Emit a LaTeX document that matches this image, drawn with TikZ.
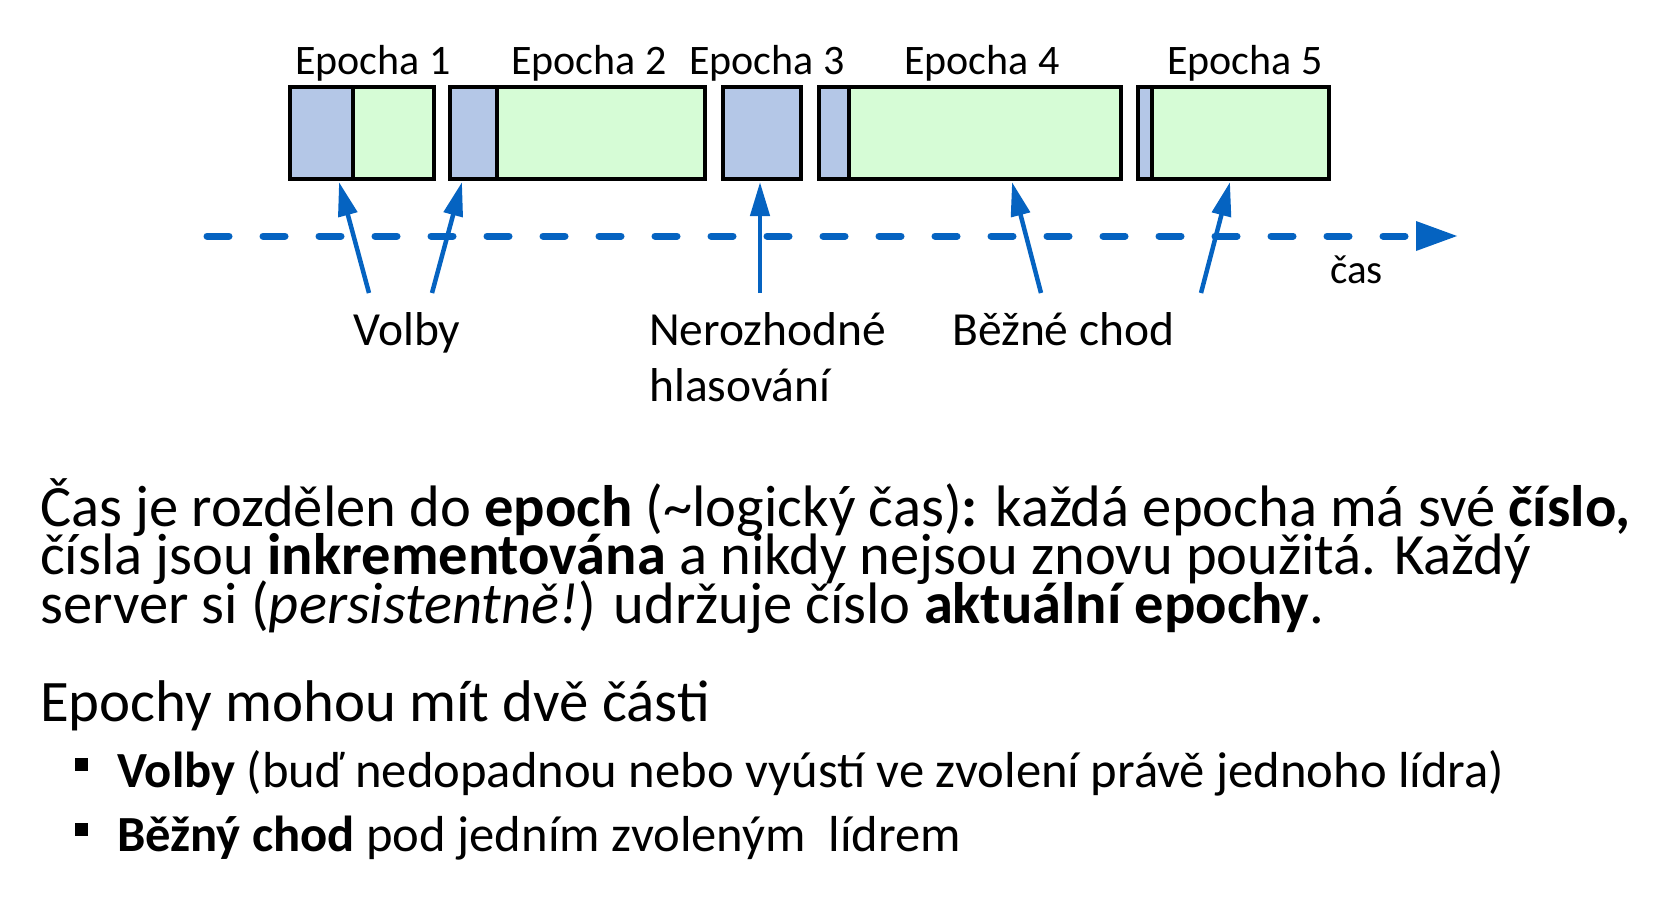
\documentclass[tikz,border=0pt]{standalone}
\usepackage{fontspec}
\setmainfont{Carlito}
\usetikzlibrary{arrows.meta}
\definecolor{arrowblue}{RGB}{5,99,193}
\definecolor{voteblue}{RGB}{180,199,231}
\definecolor{rungreen}{RGB}{214,252,214}
\begin{document}
\begin{tikzpicture}[x=1pt,y=-1pt,
  votepart/.style={fill=voteblue,draw=black,line width=4pt},
  runpart/.style={fill=rungreen,draw=black,line width=4pt},
  epochlabel/.style={anchor=base,inner sep=0pt,font=\fontsize{42}{50}\selectfont},
  phaselabel/.style={anchor=base west,inner sep=0pt,font=\fontsize{47.5}{56}\selectfont},
  pointer/.style={draw=arrowblue,line width=4.5pt,-{Triangle[length=34pt,width=19pt]}},
  timeline/.style={draw=arrowblue,line width=7pt,line cap=round,dash pattern=on 22pt off 34pt},
  textline/.style={anchor=base west,inner sep=0pt,font=\fontsize{58.5}{62}\selectfont},
  headline/.style={anchor=base west,inner sep=0pt,font=\fontsize{58.8}{64}\selectfont},
  bulletline/.style={anchor=base west,inner sep=0pt,font=\fontsize{50.6}{56}\selectfont},
  bulletmark/.style={fill=black,minimum size=13pt,inner sep=0pt}]
\useasboundingbox (0,0) rectangle (1662,908);

% epochs: election part (blue) followed by normal operation (green)
\filldraw[runpart] (353,87) rectangle (434,179);
\filldraw[votepart] (290,87) rectangle (353,179);
\filldraw[runpart] (497,87) rectangle (705,179);
\filldraw[votepart] (450,87) rectangle (497,179);
\filldraw[votepart] (723,87) rectangle (801,179);
\filldraw[runpart] (849,87) rectangle (1121,179);
\filldraw[votepart] (819,87) rectangle (849,179);
\filldraw[runpart] (1152,87) rectangle (1329,179);
\filldraw[votepart] (1138,87) rectangle (1152,179);

\node[epochlabel] (e1) at (373,74) {Epocha 1};
\node[epochlabel] (e2) at (589,74) {Epocha 2};
\node[epochlabel] (e3) at (767,74) {Epocha 3};
\node[epochlabel] (e4) at (982,74) {Epocha 4};
\node[epochlabel] (e5) at (1245,74) {Epocha 5};

% time axis
\coordinate (t0) at (207,236);
\coordinate (t1) at (1418,236);
\coordinate (t2) at (1457,236);
\draw[timeline] (t0) -- (t1);
\fill[arrowblue] (1416,221) -- (t2) -- (1416,251) -- cycle;
\node[anchor=base west,inner sep=0pt,font=\fontsize{41}{48}\selectfont] (cas) at (1330,283) {čas};

% pointers
\coordinate (s1) at (369,293); \coordinate (p1) at (339,182);
\coordinate (s2) at (432,293); \coordinate (p2) at (462,182);
\coordinate (s3) at (760,293); \coordinate (p3) at (760,182);
\coordinate (s4) at (1041,293); \coordinate (p4) at (1012,182);
\coordinate (s5) at (1201,293); \coordinate (p5) at (1230,182);
\draw[pointer] (s1) -- (p1);
\draw[pointer] (s2) -- (p2);
\draw[pointer] (s3) -- (p3);
\draw[pointer] (s4) -- (p4);
\draw[pointer] (s5) -- (p5);

\node[phaselabel] (volby) at (353,345) {Volby};
\node[phaselabel] (nerozh) at (649,345) {Nerozhodné};
\node[phaselabel] (hlas) at (649,401) {hlasování};
\node[phaselabel] (bezne) at (952,345) {Běžné chod};

% explanatory text
\node[textline] (l1) at (40,526) {Čas je rozdělen do \textbf{epoch} (\textasciitilde logický čas)\textbf{:} každá epocha má své \textbf{číslo,}};
\node[textline] (l2) at (40,574) {čísla jsou \textbf{inkrementována} a nikdy nejsou znovu použitá. Každý};
\node[textline] (l3) at (40,623) {server si (\textit{persistentně!}) udržuje číslo \textbf{aktuální epochy}.};

\node[headline] (h1) at (40,721) {Epochy mohou mít dvě části};

\node[bulletmark] (b1) at (81,764) {};
\node[bulletline] (bl1) at (117,787) {\textbf{Volby} (buď nedopadnou nebo vyústí ve zvolení právě jednoho lídra)};
\node[bulletmark] (b2) at (81,829) {};
\node[bulletline] (bl2) at (117,851) {\textbf{Běžný chod} pod jedním zvoleným\ \ lídrem};
\end{tikzpicture}
\end{document}
